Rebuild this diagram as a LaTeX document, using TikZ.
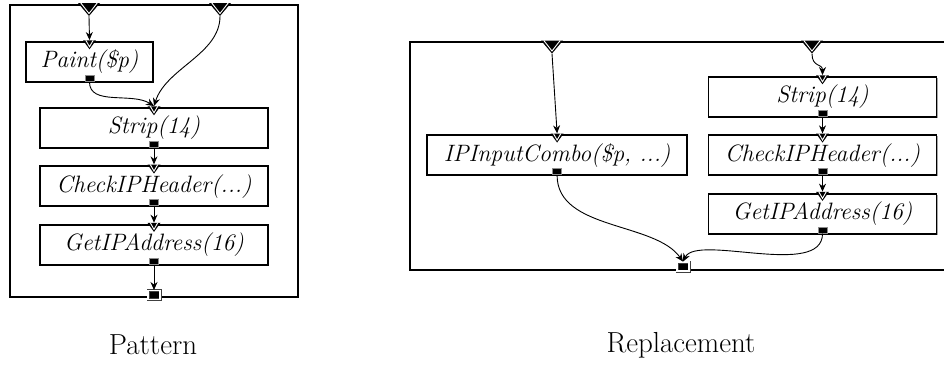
\documentclass[tikz,border=0pt]{standalone}
\usepackage{tikz}
\usetikzlibrary{positioning, arrows.meta, shadows}

\begin{document}
\begin{tikzpicture}[
    x=1pt, y=-1pt,
    node distance=16.4pt,
    frame/.style={rectangle, draw=black, line width=2.8pt, fill=white,
        drop shadow={shadow xshift=1.4pt, shadow yshift=-1.4pt, fill=black!35, opacity=1}},
    box/.style={rectangle, draw=black, line width=1.9pt, fill=white, inner sep=0pt,
        minimum width=228pt, minimum height=40pt,
        font=\fontsize{23.7}{26}\selectfont\itshape,
        drop shadow={shadow xshift=1pt, shadow yshift=-1pt, fill=black!35, opacity=1}},
    inport/.style={rectangle, inner sep=0pt, minimum width=13pt, minimum height=9pt,
        path picture={
            \fill[black] (path picture bounding box.north west) -- (path picture bounding box.south)
                -- (path picture bounding box.north east) -- cycle;
            \draw[white, line width=0.9pt] ([xshift=2.8pt]path picture bounding box.north west)
                -- ([yshift=2.5pt]path picture bounding box.south)
                -- ([xshift=-2.8pt]path picture bounding box.north east);
        }},
    frameinport/.style={inport, minimum width=22pt, minimum height=13pt},
    outport/.style={rectangle, inner sep=0pt, fill=black, draw=black!45, line width=1pt,
        minimum width=9pt, minimum height=6pt},
    frameoutport/.style={rectangle, inner sep=0pt, fill=black, draw=black!75, line width=0.8pt,
        double=white, double distance=1.4pt, minimum width=12pt, minimum height=9pt},
    conn/.style={-{Stealth[length=8pt, width=7pt]}, line width=0.9pt},
    caption/.style={font=\fontsize{29}{32}\selectfont}
]
\useasboundingbox (0,0) rectangle (944,381);

% Pattern
\node[frame, minimum width=288pt, minimum height=292pt] (patframe) at (154,151) {};
\node[box, minimum width=127pt] (paint) at (89.5,62) {Paint(\$p)};
\node[box] (pstrip) at (154,128) {Strip(14)};
\node[box, below=of pstrip] (pcheck) {CheckIPHeader(...)};
\node[box, below=of pcheck] (pget) {GetIPAddress(16)};

% Replacement
\node[frame, minimum width=535pt, minimum height=228pt] (repframe) at (677.5,156) {};
\node[box] (rstrip) at (822.5,97) {Strip(14)};
\node[box, below=of rstrip] (rcheck) {CheckIPHeader(...)};
\node[box, below=of rcheck] (rget) {GetIPAddress(16)};
\node[box, minimum width=260pt, left=19.5pt of rcheck] (combo) {IPInputCombo(\$p, ...)};

% ports
\node[frameinport] (pin1) at (89,9.5) {};
\node[frameinport] (pin2) at (220,9.5) {};
\node[frameoutport, anchor=south] (pout) at ([yshift=-1.4pt]patframe.south) {};
\node[frameinport] (rin1) at (552,47) {};
\node[frameinport] (rin2) at (812,47) {};
\node[frameoutport, anchor=south] (rout) at (683,271.4) {};

\foreach \b in {paint, pstrip, pcheck, pget, rstrip, rcheck, rget, combo} {
    \node[inport, anchor=north] (\b-in) at ([yshift=1pt]\b.north) {};
    \node[outport, anchor=south] (\b-out) at ([yshift=0.9pt]\b.south) {};
}

% Arrows
\draw[conn] (pin1.south) -- (paint-in.north);
\draw[conn] (paint-out.south) .. controls +(0,24) and +(-22,-14) .. (pstrip-in.north);
\draw[conn] (pin2.south) .. controls +(0,38) and +(12,-38) .. (pstrip-in.north);
\draw[conn] (pstrip-out.south) -- (pcheck-in.north);
\draw[conn] (pcheck-out.south) -- (pget-in.north);
\draw[conn] (pget-out.south) -- (pout.north);

\draw[conn] (rin1.south) -- (combo-in.north);
\draw[conn] (rin2.south) .. controls +(0,14) and +(0,-12) .. (rstrip-in.north);
\draw[conn] (rstrip-out.south) -- (rcheck-in.north);
\draw[conn] (rcheck-out.south) -- (rget-in.north);
\draw[conn] (combo-out.south) .. controls +(0,55) and +(-28,-40) .. (rout.north);
\draw[conn] (rget-out.south) .. controls +(0,45) and +(14,-28) .. (rout.north);

% Labels
\node[caption] (labelpat) at (153,345) {Pattern};
\node[caption] (labelrep) at (681,345) {Replacement};
\end{tikzpicture}
\end{document}
